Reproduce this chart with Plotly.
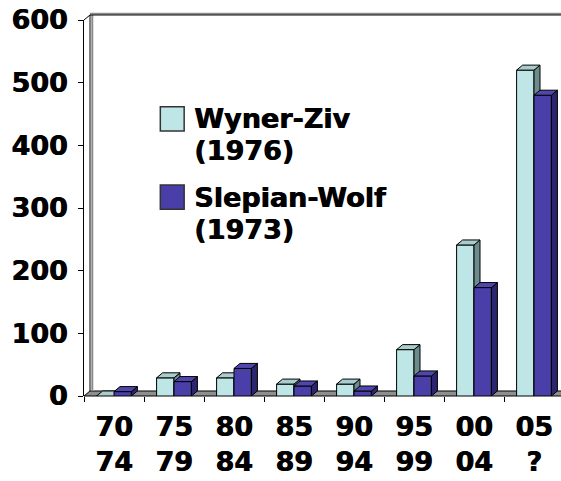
import plotly.graph_objects as go

# ---- data ----
periods = ["70<br>74", "75<br>79", "80<br>84", "85<br>89", "90<br>94",
           "95<br>99", "00<br>04", "05<br>?"]
wyner_ziv = [0, 29, 29, 19, 19, 74, 241, 520]
slepian_wolf = [7, 23, 44, 16, 8, 32, 173, 480]
series_names = [["Wyner-Ziv", "(1976)"], ["Slepian-Wolf", "(1973)"]]
y_ticks = [0, 100, 200, 300, 400, 500, 600]

# ---- style ----
FONT = "DejaVu Sans"
FS = 27
HEAVY = "0.8px 0 0 black"   # thickens the bold strokes a little
X_RANGE = [-0.5, 7.45]
Y_RANGE = [0, 600]
BAR_W = 0.29          # width of one bar (category units)
DX = 0.10             # depth offset, category units
DY = 8.0              # depth offset, value units
WZ = dict(front="#BEE6E6", top="#A9CDCD", side="#6C8C8C")
SW = dict(front="#4A3FA8", top="#5047AE", side="#2C2670")

xs = list(range(len(periods)))


def px(xc):
    return (xc - X_RANGE[0]) / (X_RANGE[1] - X_RANGE[0])


def py(v):
    return (v - Y_RANGE[0]) / (Y_RANGE[1] - Y_RANGE[0])


def text_font():
    return dict(family=FONT, size=FS, color="black", weight="bold",
                shadow=HEAVY)


def depth_faces(values, offset):
    """Top and right-side faces that give each bar its 3-D look."""
    tx, ty, sx, sy = [], [], [], []
    for xc, v in zip(xs, values):
        x0 = xc + offset
        x1 = x0 + BAR_W
        tx += [x0, x1, x1 + DX, x0 + DX, x0, None]
        ty += [v, v, v + DY, v + DY, v, None]
        sx += [x1, x1 + DX, x1 + DX, x1, x1, None]
        sy += [0, DY, v + DY, v, 0, None]
    return (tx, ty), (sx, sy)


fig = go.Figure()

for values, offset, col, xa, ya in [
    (wyner_ziv, -BAR_W, WZ, "x", "y"),
    (slepian_wolf, 0.0, SW, "x2", "y2"),
]:
    fig.add_trace(go.Bar(
        x=xs, y=values, width=BAR_W, offset=offset,
        marker=dict(color=col["front"], line=dict(color="black", width=1)),
        xaxis=xa, yaxis=ya, showlegend=False, hoverinfo="skip"))
    (tx, ty), (sx, sy) = depth_faces(values, offset)
    fig.add_trace(go.Scatter(
        x=sx, y=sy, mode="lines", fill="toself", fillcolor=col["side"],
        line=dict(color="black", width=1), xaxis=xa, yaxis=ya,
        showlegend=False, hoverinfo="skip"))
    fig.add_trace(go.Scatter(
        x=tx, y=ty, mode="lines", fill="toself", fillcolor=col["top"],
        line=dict(color="black", width=1), xaxis=xa, yaxis=ya,
        showlegend=False, hoverinfo="skip"))

shapes = []
# floor
xl, xr = X_RANGE[0], X_RANGE[1] + 0.2
floor_path = (f"M{px(xl)},{py(0)} L{px(xr)},{py(0)} L{px(xr)},{py(DY)} "
              f"L{px(xl + DX)},{py(DY)} Z")
shapes.append(dict(type="path", path=floor_path, xref="paper", yref="paper",
                   fillcolor="#8E8E8E", line=dict(color="black", width=1),
                   layer="below"))
# back wall edges (double line: grey + black)
wx = xl + DX
for color, width, shift in [("#8C8C8C", 2, 0.012), ("black", 1, 0.0)]:
    shapes.append(dict(type="line", xref="paper", yref="paper",
                       x0=px(wx) + shift * 0.4, x1=px(wx) + shift * 0.4,
                       y0=py(DY), y1=py(Y_RANGE[1] + DY),
                       line=dict(color=color, width=width), layer="below"))
    shapes.append(dict(type="line", xref="paper", yref="paper",
                       x0=px(wx), x1=px(xr),
                       y0=py(Y_RANGE[1] + DY) + shift * 0.25,
                       y1=py(Y_RANGE[1] + DY) + shift * 0.25,
                       line=dict(color=color, width=width), layer="below"))
shapes.append(dict(type="line", xref="paper", yref="paper",
                   x0=px(xl), y0=py(Y_RANGE[1]), x1=px(wx),
                   y1=py(Y_RANGE[1] + DY),
                   line=dict(color="black", width=1), layer="below"))

# legend swatches and labels
annotations = []
legend_rows = [(WZ["front"], 0.737, 0.654), (SW["front"], 0.529, 0.444)]
for (color, y_first, y_second), lines in zip(legend_rows, series_names):
    shapes.append(dict(type="rect", xref="paper", yref="paper",
                       x0=0.160, x1=0.210, y0=y_first - 0.032,
                       y1=y_first + 0.032, fillcolor=color,
                       line=dict(color="#333333", width=1.5)))
    for text, yy in zip(lines, [y_first, y_second]):
        annotations.append(dict(
            text=text, xref="paper", yref="paper", x=0.226, y=yy,
            xanchor="left", yanchor="middle", showarrow=False,
            font=text_font()))

fig.update_layout(
    width=561, height=481,
    margin=dict(l=84, r=0, t=20, b=85),
    paper_bgcolor="white", plot_bgcolor="white",
    showlegend=False,
    shapes=shapes, annotations=annotations,
    xaxis=dict(range=X_RANGE, tickmode="array",
               tickvals=[i - 0.5 for i in xs], ticktext=[""] * len(xs),
               ticks="outside", ticklen=5, tickcolor="black",
               showline=False, showgrid=False, zeroline=False),
    yaxis=dict(range=Y_RANGE, tickmode="array", tickvals=y_ticks,
               ticks="outside", ticklen=5, tickcolor="black",
               showline=True, linecolor="black", linewidth=1,
               showgrid=False, zeroline=False, ticklabelstandoff=5,
               tickfont=text_font()),
    xaxis2=dict(range=X_RANGE, overlaying="x", anchor="y2", side="bottom",
                tickmode="array", tickvals=xs, ticktext=periods, ticks="",
                showline=False, showgrid=False, zeroline=False,
                ticklabelstandoff=12, tickfont=text_font()),
    yaxis2=dict(range=Y_RANGE, overlaying="y", anchor="x2", visible=False),
)

fig.write_html("out.html")
